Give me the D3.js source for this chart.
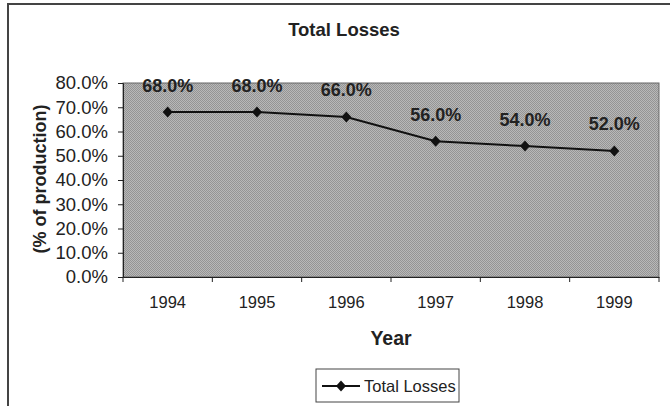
<!DOCTYPE html>
<html><head><meta charset="utf-8">
<script src="https://cdn.jsdelivr.net/npm/d3@7"></script>
<style>body{margin:0;background:#fff}svg{display:block;font-family:"Liberation Sans",Arial,sans-serif}</style>
</head><body><svg id="c" width="670" height="406"></svg>
<script>
const years = ["1994","1995","1996","1997","1998","1999"];
const totalLosses = [68.0, 68.0, 66.0, 56.0, 54.0, 52.0];
const yTicks = [0,10,20,30,40,50,60,70,80];
const seriesName = "Total Losses";

const svg = d3.select("#c");
const m = {l:123, t:83, r:659, b:277};
svg.append("rect").attr("x",8).attr("y",4).attr("width",670).attr("height",420)
  .attr("fill","#fff").attr("stroke","#444").attr("stroke-width",2);

const x = d3.scaleBand().domain(years).range([m.l,m.r]);
const y = d3.scaleLinear().domain([0,80]).range([m.b,m.t]);

const defs = svg.append("defs");
const pat = defs.append("pattern").attr("id","dith").attr("width",2).attr("height",2).attr("patternUnits","userSpaceOnUse");
pat.append("rect").attr("width",2).attr("height",2).attr("fill","#b8b8b8");
pat.append("rect").attr("width",1).attr("height",1).attr("fill","#949494");
pat.append("rect").attr("x",1).attr("y",1).attr("width",1).attr("height",1).attr("fill","#949494");

svg.append("rect").attr("x",m.l).attr("y",m.t).attr("width",m.r-m.l).attr("height",m.b-m.t)
  .attr("fill","url(#dith)").attr("stroke","#666").attr("stroke-width",1);

svg.append("text").attr("x",344).attr("y",36).attr("text-anchor","middle")
  .attr("font-size",18.5).attr("font-weight","bold").attr("fill","#222").text("Total Losses");

const ya = svg.append("g").attr("transform",`translate(${m.l},0)`)
  .call(d3.axisLeft(y).tickValues(yTicks).tickSize(5).tickPadding(10).tickFormat(d=>d.toFixed(1)+"%"));
ya.select(".domain").attr("stroke","#222");
ya.selectAll(".tick line").attr("stroke","#222");
ya.selectAll("text").attr("font-size",18.5).attr("fill","#222").attr("font-family","Liberation Sans, Arial, sans-serif");

const xa = svg.append("g").attr("transform",`translate(0,${m.b})`)
  .call(d3.axisBottom(x).tickSize(0).tickPadding(19));
xa.select(".domain").attr("stroke","#222");
xa.selectAll("text").attr("font-size",16.5).attr("fill","#222").attr("font-family","Liberation Sans, Arial, sans-serif");
const bounds = years.map(d=>x(d)).concat([m.r]);
svg.append("g").selectAll("line").data(bounds).join("line")
  .attr("x1",d=>d).attr("x2",d=>d).attr("y1",m.b).attr("y2",m.b+5).attr("stroke","#222");

svg.append("text").attr("transform",`translate(46,${(m.t+m.b)/2-1}) rotate(-90)`)
  .attr("text-anchor","middle").attr("font-size",18).attr("font-weight","bold").attr("fill","#222").text("(% of production)");
svg.append("text").attr("x",(m.l+m.r)/2).attr("y",345).attr("text-anchor","middle")
  .attr("font-size",19.5).attr("font-weight","bold").attr("fill","#222").text("Year");

const cx = d=>x(d)+x.bandwidth()/2;
const line = d3.line().x((d,i)=>cx(years[i])).y(d=>y(d));
svg.append("path").datum(totalLosses).attr("d",line).attr("fill","none").attr("stroke","#111").attr("stroke-width",2);
const diamond = "M0,-5.5L5,0L0,5.5L-5,0Z";
svg.append("g").selectAll("path").data(totalLosses).join("path")
  .attr("transform",(d,i)=>`translate(${cx(years[i])},${y(d)})`).attr("d",diamond).attr("fill","#111");
svg.append("g").selectAll("text").data(totalLosses).join("text")
  .attr("x",(d,i)=>cx(years[i])).attr("y",d=>y(d)-20.5).attr("text-anchor","middle")
  .attr("font-size",18).attr("font-weight","bold").attr("fill","#222").text(d=>d.toFixed(1)+"%");

const lg = svg.append("g");
lg.append("rect").attr("x",316).attr("y",369).attr("width",143).attr("height",33).attr("fill","#fff").attr("stroke","#444");
lg.append("line").attr("x1",322).attr("x2",360).attr("y1",386).attr("y2",386).attr("stroke","#111").attr("stroke-width",2);
lg.append("path").attr("transform","translate(341,386)").attr("d",diamond).attr("fill","#111");
lg.append("text").attr("x",364).attr("y",392).attr("font-size",16.5).attr("fill","#222").text(seriesName);
</script></body></html>
